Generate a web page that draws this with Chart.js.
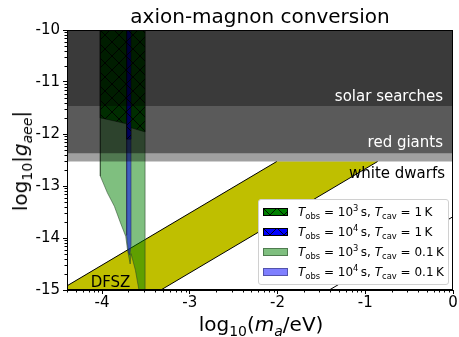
<!DOCTYPE html>
<html>
<head>
<meta charset="utf-8">
<script src="https://cdn.jsdelivr.net/npm/chart.js@4.4.1/dist/chart.umd.min.js"></script>
<style>
body { margin: 0; background: #fff; }
#wrap { position: relative; width: 459px; height: 337px; font-family: "DejaVu Sans", sans-serif; color: #000; }
#c { display: block; }
.txt { position: absolute; white-space: nowrap; line-height: 1; }
.txt sub, .txt sup { font-size: 70%; line-height: 0; }
#xlab { left: 261px; top: 324px; font-size: 20px; transform: translate(-50%, -50%); }
#ylab { left: 20px; top: 161px; font-size: 20px; transform: translate(-50%, -50%) rotate(-90deg); }
#legend { position: absolute; left: 258px; top: 199px; width: 191px; height: 86px; box-sizing: border-box;
  background: #fff; border: 1px solid #d0d0d0; border-radius: 3px; padding-top: 2px; font-size: 12px; }
#legend .row { display: flex; align-items: center; height: 20px; white-space: nowrap; }
#legend canvas { margin-left: 4px; margin-right: 10px; width: 25px; height: 8px; }
#legend sub, #legend sup { font-size: 70%; line-height: 0; }
</style>
</head>
<body>
<div id="wrap">
  <canvas id="c" width="459" height="337"></canvas>
  <div class="txt" id="xlab">log<sub>10</sub>(<i>m</i><sub><i>a</i></sub>/eV)</div>
  <div class="txt" id="ylab">log<sub>10</sub>|<i>g</i><sub><i>aee</i></sub>|</div>
  <div id="legend">
    <div class="row"><canvas id="sw0" width="25" height="8"></canvas><span><i>T</i><sub>obs</sub> = 10<sup>3</sup>&thinsp;s, <i>T</i><sub>cav</sub> = 1&thinsp;K</span></div>
    <div class="row"><canvas id="sw1" width="25" height="8"></canvas><span><i>T</i><sub>obs</sub> = 10<sup>4</sup>&thinsp;s, <i>T</i><sub>cav</sub> = 1&thinsp;K</span></div>
    <div class="row"><canvas id="sw2" width="25" height="8"></canvas><span><i>T</i><sub>obs</sub> = 10<sup>3</sup>&thinsp;s, <i>T</i><sub>cav</sub> = 0.1&thinsp;K</span></div>
    <div class="row"><canvas id="sw3" width="25" height="8"></canvas><span><i>T</i><sub>obs</sub> = 10<sup>4</sup>&thinsp;s, <i>T</i><sub>cav</sub> = 0.1&thinsp;K</span></div>
  </div>
</div>
<script>

// axes
var xMin = -4.4, xMax = 0, yMin = -15, yMax = -10;
var xTicks = [-4, -3, -2, -1, 0];
var yTicks = [-15, -14, -13, -12, -11, -10];

// astrophysical bounds, log10 g_aee
var boundNames = ['solar searches', 'red giants', 'white dwarfs'];
var boundLimits = [-11.46, -12.37, -12.53];

// DFSZ band (below the white dwarf bound)
var dfszX = [-4.4, -4.4, -2.01, -0.86, -3.33, -4.4];
var dfszY = [-15, -14.92, -12.53, -12.53, -15, -15];
var dfszTopX = [-4.4, -2.01];
var dfszTopY = [-14.92, -12.53];
var dfszLowX = [-3.33, -0.86];
var dfszLowY = [-15, -12.53];
var otherLineX = [-1.41, 0];
var otherLineY = [-15, -13.59];

// Tobs = 1e3 s, Tcav = 0.1 K
var g01X = [-4.02, -4.02, -3.94, -3.86, -3.79, -3.73, -3.71, -3.68, -3.67, -3.62, -3.58, -3.51, -3.51, -4.02];
var g01Y = [-10, -12.81, -13.13, -13.39, -13.71, -13.97, -14.23, -14.50, -14.30, -14.62, -15, -15, -10, -10];
// Tobs = 1e4 s, Tcav = 0.1 K
var b01X = [-3.72, -3.72, -3.70, -3.685, -3.67, -3.67, -3.72];
var b01Y = [-10, -13.95, -14.28, -14.33, -14.13, -10, -10];
// Tobs = 1e3 s, Tcav = 1 K
var g1X = [-4.02, -4.02, -3.86, -3.71, -3.67, -3.51, -3.51, -4.02];
var g1Y = [-10, -11.69, -11.75, -11.81, -11.88, -11.96, -10, -10];
// Tobs = 1e4 s, Tcav = 1 K
var b1X = [-3.72, -3.72, -3.67, -3.67, -3.72];
var b1Y = [-10, -12.10, -12.10, -10, -10];

function pts(xs, ys){
	return xs.map(function(x, i){ return {x: x, y: ys[i]}; });
}

function hatch(ctx, color){
	var p = document.createElement('canvas');
	p.width = 14; p.height = 14;
	var g = p.getContext('2d');
	g.fillStyle = color;
	g.fillRect(0, 0, 14, 14);
	g.strokeStyle = 'rgba(0,0,0,0.85)';
	g.lineWidth = 1;
	g.beginPath();
	g.moveTo(-1, -1); g.lineTo(15, 15);
	g.moveTo(15, -1); g.lineTo(-1, 15);
	g.stroke();
	return ctx.createPattern(p, 'repeat');
}

var tmp = document.createElement('canvas').getContext('2d');
var greenHatch = hatch(tmp, '#008000');
var blueHatch = hatch(tmp, '#0000ff');

function shape(xs, ys, bg, border, order){
	return {
		data: pts(xs, ys), showLine: true, fill: 'shape',
		backgroundColor: bg, borderColor: border, borderWidth: border ? 1 : 0,
		pointRadius: 0, order: order
	};
}
function line(xs, ys, order){
	return {
		data: pts(xs, ys), showLine: true, fill: false,
		borderColor: '#000', borderWidth: 1, pointRadius: 0, order: order
	};
}
function band(limit, alpha, order){
	return {
		data: pts([xMin, xMax], [limit, limit]), showLine: true, fill: 'end',
		backgroundColor: 'rgba(0,0,0,' + alpha + ')', borderWidth: 0, pointRadius: 0, order: order
	};
}

var datasets = [
	shape(dfszX, dfszY, '#bfbf00', null, 20),
	line(dfszTopX, dfszTopY, 19),
	line(dfszLowX, dfszLowY, 18),
	line(otherLineX, otherLineY, 17),
	shape(g01X, g01Y, 'rgba(0,128,0,0.5)', 'rgba(40,70,40,0.55)', 16),
	shape(b01X, b01Y, 'rgba(0,0,255,0.5)', 'rgba(40,40,90,0.5)', 15),
	shape(g1X, g1Y, greenHatch, 'rgba(0,0,0,0.4)', 14),
	shape(b1X, b1Y, blueHatch, 'rgba(0,0,0,0.4)', 13),
	band(boundLimits[2], 0.373, 3),
	band(boundLimits[1], 0.4375, 2),
	band(boundLimits[0], 0.356, 1)
];

var decor = {
	id: 'decor',
	afterDatasetsDraw: function(chart){
		var c = chart.ctx, a = chart.chartArea;
		var xs = chart.scales.x, ys = chart.scales.y;
		c.save();
		c.font = '15px "DejaVu Sans"';
		c.textAlign = 'right';
		c.textBaseline = 'alphabetic';
		var rx = a.right - 10;
		c.fillStyle = '#fff';
		c.fillText(boundNames[0], rx, ys.getPixelForValue(boundLimits[0]) - 5);
		c.fillText(boundNames[1], rx, ys.getPixelForValue(boundLimits[1]) - 6);
		c.fillStyle = '#000';
		c.fillText(boundNames[2], rx + 2, ys.getPixelForValue(boundLimits[2]) + 16);
		c.textAlign = 'left';
		c.fillText('DFSZ', xs.getPixelForValue(-4.13), a.bottom - 3.5);
		c.restore();
	},
	afterDraw: function(chart){
		var c = chart.ctx, a = chart.chartArea;
		var xs = chart.scales.x, ys = chart.scales.y;
		c.save();
		c.strokeStyle = '#000';
		c.lineWidth = 1;
		c.strokeRect(Math.round(a.left) + 0.5, Math.round(a.top) + 0.5,
			Math.round(a.right - a.left) - 1, Math.round(a.bottom - a.top) - 1);
		// minor ticks, log spaced inside each decade
		c.beginPath();
		for (var d = -5; d < 0; d++){
			for (var k = 2; k < 10; k++){
				var v = d + Math.log10(k);
				if (v > xMin && v < xMax){
					var px = Math.round(xs.getPixelForValue(v)) + 0.5;
					c.moveTo(px, a.bottom); c.lineTo(px, a.bottom + 2.5);
				}
			}
		}
		for (var e = -15; e < -10; e++){
			for (var m = 2; m < 10; m++){
				var w = e + Math.log10(m);
				if (w > yMin && w < yMax){
					var py = Math.round(ys.getPixelForValue(w)) + 0.5;
					c.moveTo(a.left, py); c.lineTo(a.left - 2.5, py);
				}
			}
		}
		c.stroke();
		// title
		c.font = '20px "DejaVu Sans"';
		c.textAlign = 'center';
		c.fillStyle = '#000';
		c.fillText('axion-magnon conversion', (a.left + a.right) / 2, 23);
		c.restore();
	}
};

var axisFont = { family: 'DejaVu Sans', size: 15 };

new Chart(document.getElementById('c'), {
	type: 'scatter',
	data: { datasets: datasets },
	options: {
		responsive: false,
		animation: false,
		events: [],
		layout: { padding: { top: 30, right: 6, left: 0, bottom: 0 } },
		plugins: { legend: { display: false }, tooltip: { enabled: false } },
		scales: {
			x: {
				type: 'linear', min: xMin, max: xMax,
				afterBuildTicks: function(s){ s.ticks = xTicks.map(function(v){ return {value: v}; }); },
				afterFit: function(s){ s.height = 47; },
				grid: { drawOnChartArea: false, tickLength: 4, tickColor: '#000' },
				border: { color: '#000' },
				ticks: { font: axisFont, color: '#000', padding: 0, maxRotation: 0,
					callback: function(v){ return String(v); } }
			},
			y: {
				type: 'linear', min: yMin, max: yMax,
				afterBuildTicks: function(s){ s.ticks = yTicks.map(function(v){ return {value: v}; }); },
				afterFit: function(s){ s.width = 67; },
				grid: { drawOnChartArea: false, tickLength: 4, tickColor: '#000' },
				border: { color: '#000' },
				ticks: { font: axisFont, color: '#000', padding: 3,
					callback: function(v){ return String(v); } }
			}
		}
	},
	plugins: [decor]
});

// legend swatches
function swatch(id, fill, edge){
	var el = document.getElementById(id), g = el.getContext('2d');
	g.fillStyle = '#fff'; g.fillRect(0, 0, 25, 8);
	g.fillStyle = fill; g.fillRect(0, 0, 25, 8);
	g.strokeStyle = edge; g.lineWidth = 1;
	g.strokeRect(0.5, 0.5, 24, 7);
}
swatch('sw0', hatch(document.getElementById('sw0').getContext('2d'), '#008000'), '#000');
swatch('sw1', hatch(document.getElementById('sw1').getContext('2d'), '#0000ff'), '#000');
swatch('sw2', 'rgba(0,128,0,0.5)', 'rgba(40,70,40,0.55)');
swatch('sw3', 'rgba(0,0,255,0.5)', 'rgba(40,40,90,0.5)');
</script>
</body>
</html>
